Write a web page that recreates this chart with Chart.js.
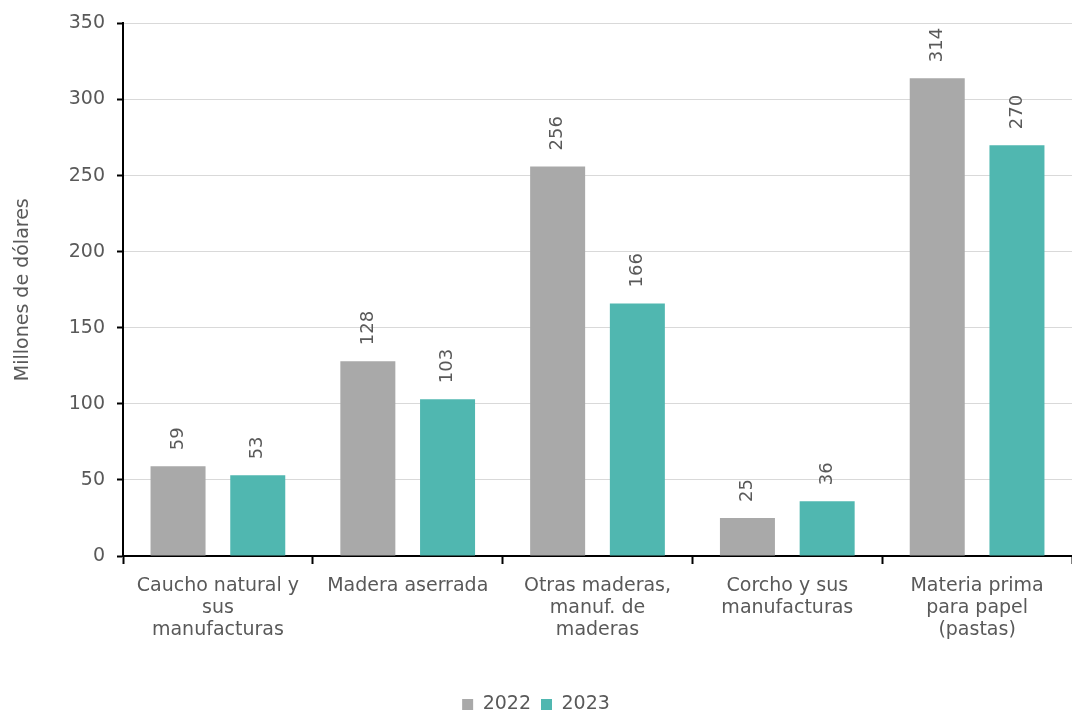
<!DOCTYPE html>
<html>
<head>
<meta charset="utf-8">
<script src="https://cdn.jsdelivr.net/npm/chart.js@4/dist/chart.umd.min.js"></script>
<style>
  html, body { margin: 0; padding: 0; background: #fff; overflow: hidden; }
  #wrap { width: 1072px; height: 711px; }
</style>
</head>
<body>
<div id="wrap"><canvas id="chart"></canvas></div>
<script>
// Categories and values (millones de dólares)
const categories = [
    ['Caucho natural y', 'sus', 'manufacturas'],
    ['Madera aserrada'],
    ['Otras maderas,', 'manuf. de', 'maderas'],
    ['Corcho y sus', 'manufacturas'],
    ['Materia prima', 'para papel', '(pastas)']
];
const values2022 = [59, 128, 256, 25, 314];
const values2023 = [53, 103, 166, 36, 270];
const yTicks = [0, 50, 100, 150, 200, 250, 300, 350];

const textColor = '#595959';
const fontFamily = '"DejaVu Sans", sans-serif';

// Draw the value labels rotated above each bar
const barLabels = {
    id: 'barLabels',
    afterDatasetsDraw(chart) {
        const ctx = chart.ctx;
        chart.data.datasets.forEach((ds, i) => {
            const meta = chart.getDatasetMeta(i);
            meta.data.forEach((bar, j) => {
                ctx.save();
                ctx.translate(bar.x, bar.y - 16);
                ctx.rotate(-Math.PI / 2);
                ctx.font = '18px ' + fontFamily;
                ctx.fillStyle = textColor;
                ctx.textAlign = 'left';
                ctx.textBaseline = 'middle';
                ctx.fillText(String(ds.data[j]), 0, 0);
                ctx.restore();
            });
        });
    }
};

const ctx = document.getElementById('chart').getContext('2d');
new Chart(ctx, {
    type: 'bar',
    data: {
        labels: categories,
        datasets: [
            { label: '2022', data: values2022, backgroundColor: '#A9A9A9' },
            { label: '2023', data: values2023, backgroundColor: '#50B7B0' }
        ]
    },
    options: {
        responsive: true,
        maintainAspectRatio: false,
        animation: false,
        categoryPercentage: 0.84,
        barPercentage: 0.69,
        layout: { padding: { top: 12, right: 0, left: 0, bottom: -13 } },
        plugins: {
            legend: {
                position: 'bottom',
                labels: {
                    boxWidth: 11,
                    boxHeight: 11,
                    color: textColor,
                    font: { size: 19, family: fontFamily },
                    padding: 10
                }
            },
            tooltip: { enabled: false }
        },
        scales: {
            x: {
                grid: {
                    display: true,
                    offset: true,
                    drawOnChartArea: false,
                    tickLength: 8,
                    tickColor: '#000',
                    tickWidth: 2
                },
                border: { display: true, color: '#000', width: 2 },
                ticks: {
                    color: textColor,
                    font: { size: 19, family: fontFamily, lineHeight: 1.16 },
                    maxRotation: 0,
                    autoSkip: false,
                    padding: 11
                },
                afterFit(scale) {
                    scale.height = 129;
                }
            },
            y: {
                min: 0,
                max: 350,
                afterBuildTicks(scale) {
                    scale.ticks = yTicks.map(v => ({ value: v }));
                },
                grid: {
                    color: '#d9d9d9',
                    tickLength: 6,
                    tickColor: '#000',
                    tickWidth: 2
                },
                border: { display: true, color: '#000', width: 2 },
                ticks: {
                    color: textColor,
                    font: { size: 19, family: fontFamily },
                    padding: 12
                },
                title: {
                    display: true,
                    text: 'Millones de dólares',
                    color: textColor,
                    font: { size: 19, family: fontFamily },
                    padding: { top: 12, bottom: 8 }
                },
                afterFit(scale) {
                    scale.width = 123;
                }
            }
        }
    },
    plugins: [barLabels]
});
</script>
</body>
</html>
